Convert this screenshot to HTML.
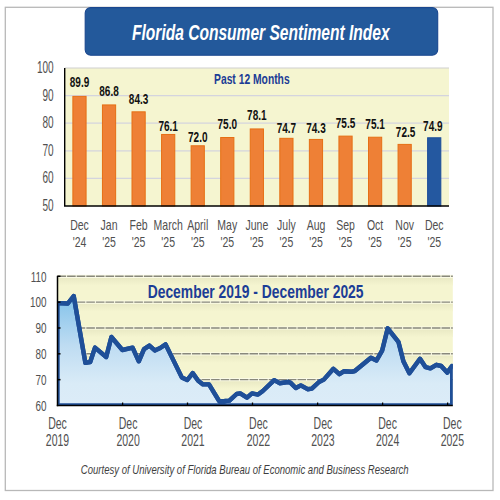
<!DOCTYPE html><html><head><meta charset="utf-8"><style>html,body{margin:0;padding:0;background:#fff;width:500px;height:500px;overflow:hidden}svg{display:block}text{font-family:"Liberation Sans",sans-serif}</style></head><body>
<svg width="500" height="500" viewBox="0 0 500 500">
<defs><linearGradient id="ag" x1="0" y1="296" x2="0" y2="405.5" gradientUnits="userSpaceOnUse"><stop offset="0" stop-color="#82c2ea"/><stop offset="0.45" stop-color="#bedcf2"/><stop offset="0.8" stop-color="#d9ebf7"/><stop offset="1" stop-color="#dcecf8"/></linearGradient><linearGradient id="band" x1="0" y1="0" x2="0" y2="1"><stop offset="0" stop-color="#e9e9c4"/><stop offset="1" stop-color="#f5f5d0"/></linearGradient><clipPath id="lc"><rect x="57.5" y="270" width="395.3" height="135.5"/></clipPath></defs>
<rect x="5.3" y="7.3" width="487.7" height="483.2" fill="#fff" stroke="#b8b8b8" stroke-width="1.3"/>
<rect x="85.2" y="7.6" width="352.5" height="47.6" rx="5.5" ry="5.5" fill="#23599b" stroke="#1a478f" stroke-width="1.1"/>
<text transform="translate(131.99 39.88) scale(0.7026 1)" font-size="22.162" font-weight="bold" font-style="italic" fill="#fff" text-anchor="start">Florida Consumer Sentiment Index</text>
<rect x="64.7" y="68" width="384.3" height="138.0" fill="#f5f5d0"/>
<line x1="64.7" y1="68" x2="449" y2="68" stroke="#cfcfcf" stroke-width="1.2"/>
<line x1="64.7" y1="178.40" x2="449" y2="178.40" stroke="#d4d4de" stroke-width="1.3"/>
<line x1="64.7" y1="150.80" x2="449" y2="150.80" stroke="#d4d4de" stroke-width="1.3"/>
<line x1="64.7" y1="123.20" x2="449" y2="123.20" stroke="#d4d4de" stroke-width="1.3"/>
<line x1="64.7" y1="95.60" x2="449" y2="95.60" stroke="#d4d4de" stroke-width="1.3"/>
<rect x="72.88" y="96.38" width="13.2" height="109.62" fill="#ee8036" stroke="#e66f14" stroke-width="1"/>
<text transform="translate(79.48 87.30) scale(0.6870 1)" font-size="14.6" font-weight="bold" font-style="normal" fill="#111" text-anchor="middle">89.9</text>
<text transform="translate(79.48 229.90) scale(0.7100 1)" font-size="14.8" font-weight="normal" font-style="normal" fill="#505050" text-anchor="middle">Dec</text>
<text transform="translate(79.48 247.20) scale(0.7100 1)" font-size="14.8" font-weight="normal" font-style="normal" fill="#505050" text-anchor="middle">&#39;24</text>
<rect x="102.44" y="104.93" width="13.2" height="101.07" fill="#ee8036" stroke="#e66f14" stroke-width="1"/>
<text transform="translate(109.04 95.70) scale(0.6870 1)" font-size="14.6" font-weight="bold" font-style="normal" fill="#111" text-anchor="middle">86.8</text>
<text transform="translate(109.04 229.90) scale(0.7100 1)" font-size="14.8" font-weight="normal" font-style="normal" fill="#505050" text-anchor="middle">Jan</text>
<text transform="translate(109.04 247.20) scale(0.7100 1)" font-size="14.8" font-weight="normal" font-style="normal" fill="#505050" text-anchor="middle">&#39;25</text>
<rect x="132.00" y="111.83" width="13.2" height="94.17" fill="#ee8036" stroke="#e66f14" stroke-width="1"/>
<text transform="translate(138.60 103.90) scale(0.6870 1)" font-size="14.6" font-weight="bold" font-style="normal" fill="#111" text-anchor="middle">84.3</text>
<text transform="translate(138.60 229.90) scale(0.7100 1)" font-size="14.8" font-weight="normal" font-style="normal" fill="#505050" text-anchor="middle">Feb</text>
<text transform="translate(138.60 247.20) scale(0.7100 1)" font-size="14.8" font-weight="normal" font-style="normal" fill="#505050" text-anchor="middle">&#39;25</text>
<rect x="161.57" y="134.46" width="13.2" height="71.54" fill="#ee8036" stroke="#e66f14" stroke-width="1"/>
<text transform="translate(168.17 131.30) scale(0.6870 1)" font-size="14.6" font-weight="bold" font-style="normal" fill="#111" text-anchor="middle">76.1</text>
<text transform="translate(168.17 229.90) scale(0.7100 1)" font-size="14.8" font-weight="normal" font-style="normal" fill="#505050" text-anchor="middle">March</text>
<text transform="translate(168.17 247.20) scale(0.7100 1)" font-size="14.8" font-weight="normal" font-style="normal" fill="#505050" text-anchor="middle">&#39;25</text>
<rect x="191.13" y="145.78" width="13.2" height="60.22" fill="#ee8036" stroke="#e66f14" stroke-width="1"/>
<text transform="translate(197.73 142.10) scale(0.6870 1)" font-size="14.6" font-weight="bold" font-style="normal" fill="#111" text-anchor="middle">72.0</text>
<text transform="translate(197.73 229.90) scale(0.7100 1)" font-size="14.8" font-weight="normal" font-style="normal" fill="#505050" text-anchor="middle">April</text>
<text transform="translate(197.73 247.20) scale(0.7100 1)" font-size="14.8" font-weight="normal" font-style="normal" fill="#505050" text-anchor="middle">&#39;25</text>
<rect x="220.69" y="137.50" width="13.2" height="68.50" fill="#ee8036" stroke="#e66f14" stroke-width="1"/>
<text transform="translate(227.29 129.30) scale(0.6870 1)" font-size="14.6" font-weight="bold" font-style="normal" fill="#111" text-anchor="middle">75.0</text>
<text transform="translate(227.29 229.90) scale(0.7100 1)" font-size="14.8" font-weight="normal" font-style="normal" fill="#505050" text-anchor="middle">May</text>
<text transform="translate(227.29 247.20) scale(0.7100 1)" font-size="14.8" font-weight="normal" font-style="normal" fill="#505050" text-anchor="middle">&#39;25</text>
<rect x="250.25" y="128.94" width="13.2" height="77.06" fill="#ee8036" stroke="#e66f14" stroke-width="1"/>
<text transform="translate(256.85 120.30) scale(0.6870 1)" font-size="14.6" font-weight="bold" font-style="normal" fill="#111" text-anchor="middle">78.1</text>
<text transform="translate(256.85 229.90) scale(0.7100 1)" font-size="14.8" font-weight="normal" font-style="normal" fill="#505050" text-anchor="middle">June</text>
<text transform="translate(256.85 247.20) scale(0.7100 1)" font-size="14.8" font-weight="normal" font-style="normal" fill="#505050" text-anchor="middle">&#39;25</text>
<rect x="279.81" y="138.33" width="13.2" height="67.67" fill="#ee8036" stroke="#e66f14" stroke-width="1"/>
<text transform="translate(286.41 132.50) scale(0.6870 1)" font-size="14.6" font-weight="bold" font-style="normal" fill="#111" text-anchor="middle">74.7</text>
<text transform="translate(286.41 229.90) scale(0.7100 1)" font-size="14.8" font-weight="normal" font-style="normal" fill="#505050" text-anchor="middle">July</text>
<text transform="translate(286.41 247.20) scale(0.7100 1)" font-size="14.8" font-weight="normal" font-style="normal" fill="#505050" text-anchor="middle">&#39;25</text>
<rect x="309.37" y="139.43" width="13.2" height="66.57" fill="#ee8036" stroke="#e66f14" stroke-width="1"/>
<text transform="translate(315.97 132.50) scale(0.6870 1)" font-size="14.6" font-weight="bold" font-style="normal" fill="#111" text-anchor="middle">74.3</text>
<text transform="translate(315.97 229.90) scale(0.7100 1)" font-size="14.8" font-weight="normal" font-style="normal" fill="#505050" text-anchor="middle">Aug</text>
<text transform="translate(315.97 247.20) scale(0.7100 1)" font-size="14.8" font-weight="normal" font-style="normal" fill="#505050" text-anchor="middle">&#39;25</text>
<rect x="338.93" y="136.12" width="13.2" height="69.88" fill="#ee8036" stroke="#e66f14" stroke-width="1"/>
<text transform="translate(345.53 127.90) scale(0.6870 1)" font-size="14.6" font-weight="bold" font-style="normal" fill="#111" text-anchor="middle">75.5</text>
<text transform="translate(345.53 229.90) scale(0.7100 1)" font-size="14.8" font-weight="normal" font-style="normal" fill="#505050" text-anchor="middle">Sep</text>
<text transform="translate(345.53 247.20) scale(0.7100 1)" font-size="14.8" font-weight="normal" font-style="normal" fill="#505050" text-anchor="middle">&#39;25</text>
<rect x="368.50" y="137.22" width="13.2" height="68.78" fill="#ee8036" stroke="#e66f14" stroke-width="1"/>
<text transform="translate(375.10 128.90) scale(0.6870 1)" font-size="14.6" font-weight="bold" font-style="normal" fill="#111" text-anchor="middle">75.1</text>
<text transform="translate(375.10 229.90) scale(0.7100 1)" font-size="14.8" font-weight="normal" font-style="normal" fill="#505050" text-anchor="middle">Oct</text>
<text transform="translate(375.10 247.20) scale(0.7100 1)" font-size="14.8" font-weight="normal" font-style="normal" fill="#505050" text-anchor="middle">&#39;25</text>
<rect x="398.06" y="144.40" width="13.2" height="61.60" fill="#ee8036" stroke="#e66f14" stroke-width="1"/>
<text transform="translate(405.56 137.30) scale(0.6870 1)" font-size="14.6" font-weight="bold" font-style="normal" fill="#111" text-anchor="middle">72.5</text>
<text transform="translate(404.66 229.90) scale(0.7100 1)" font-size="14.8" font-weight="normal" font-style="normal" fill="#505050" text-anchor="middle">Nov</text>
<text transform="translate(404.66 247.20) scale(0.7100 1)" font-size="14.8" font-weight="normal" font-style="normal" fill="#505050" text-anchor="middle">&#39;25</text>
<rect x="427.62" y="137.78" width="13.2" height="68.22" fill="#2458a0" stroke="#1a4c99" stroke-width="1"/>
<text transform="translate(432.82 130.90) scale(0.6870 1)" font-size="14.6" font-weight="bold" font-style="normal" fill="#111" text-anchor="middle">74.9</text>
<text transform="translate(434.22 229.90) scale(0.7100 1)" font-size="14.8" font-weight="normal" font-style="normal" fill="#505050" text-anchor="middle">Dec</text>
<text transform="translate(434.22 247.20) scale(0.7100 1)" font-size="14.8" font-weight="normal" font-style="normal" fill="#505050" text-anchor="middle">&#39;25</text>
<line x1="64.7" y1="68" x2="64.7" y2="206.0" stroke="#000" stroke-width="1.4"/>
<line x1="64.0" y1="206.0" x2="449" y2="206.0" stroke="#000" stroke-width="1.4"/>
<text transform="translate(53.60 211.00) scale(0.6150 1)" font-size="16.3" font-weight="normal" font-style="normal" fill="#505050" text-anchor="end">50</text>
<text transform="translate(53.60 183.40) scale(0.6150 1)" font-size="16.3" font-weight="normal" font-style="normal" fill="#505050" text-anchor="end">60</text>
<text transform="translate(53.60 155.80) scale(0.6150 1)" font-size="16.3" font-weight="normal" font-style="normal" fill="#505050" text-anchor="end">70</text>
<text transform="translate(53.60 128.20) scale(0.6150 1)" font-size="16.3" font-weight="normal" font-style="normal" fill="#505050" text-anchor="end">80</text>
<text transform="translate(53.60 100.60) scale(0.6150 1)" font-size="16.3" font-weight="normal" font-style="normal" fill="#505050" text-anchor="end">90</text>
<text transform="translate(53.60 73.00) scale(0.6150 1)" font-size="16.3" font-weight="normal" font-style="normal" fill="#505050" text-anchor="end">100</text>
<text transform="translate(214.03 84.21) scale(0.7204 1)" font-size="14.324" font-weight="bold" font-style="normal" fill="#1c3d96" text-anchor="start">Past 12 Months</text>
<rect x="57.5" y="276.3" width="395.3" height="129.2" fill="#f5f5d0"/>
<rect x="57.5" y="380.86" width="395.3" height="8" fill="url(#band)"/>
<line x1="57.5" y1="379.66" x2="452.8" y2="379.66" stroke="#fbfbe6" stroke-width="3.2"/>
<line x1="57.5" y1="379.66" x2="452.8" y2="379.66" stroke="#88887c" stroke-width="1.4" stroke-dasharray="8.6 1.0"/>
<rect x="57.5" y="355.02" width="395.3" height="8" fill="url(#band)"/>
<line x1="57.5" y1="353.82" x2="452.8" y2="353.82" stroke="#fbfbe6" stroke-width="3.2"/>
<line x1="57.5" y1="353.82" x2="452.8" y2="353.82" stroke="#88887c" stroke-width="1.4" stroke-dasharray="8.6 1.0"/>
<rect x="57.5" y="329.18" width="395.3" height="8" fill="url(#band)"/>
<line x1="57.5" y1="327.98" x2="452.8" y2="327.98" stroke="#fbfbe6" stroke-width="3.2"/>
<line x1="57.5" y1="327.98" x2="452.8" y2="327.98" stroke="#88887c" stroke-width="1.4" stroke-dasharray="8.6 1.0"/>
<rect x="57.5" y="303.34" width="395.3" height="8" fill="url(#band)"/>
<line x1="57.5" y1="302.14" x2="452.8" y2="302.14" stroke="#fbfbe6" stroke-width="3.2"/>
<line x1="57.5" y1="302.14" x2="452.8" y2="302.14" stroke="#88887c" stroke-width="1.4" stroke-dasharray="8.6 1.0"/>
<rect x="57.5" y="277.50" width="395.3" height="8" fill="url(#band)"/>
<line x1="57.5" y1="276.30" x2="452.8" y2="276.30" stroke="#fbfbe6" stroke-width="3.2"/>
<line x1="57.5" y1="276.30" x2="452.8" y2="276.30" stroke="#88887c" stroke-width="1.4" stroke-dasharray="8.6 1.0"/>
<g clip-path="url(#lc)"><path d="M57.5,405.5 L57.5,303.1 L67.8,303.5 L73.7,296 L85.4,362.8 L90.2,362 L95,347.6 L106.2,357 L111.4,337 L122.4,350 L132.6,347.6 L138.8,361.3 L144,349.2 L149.4,345.6 L154.8,350.4 L160.2,348 L165.6,344.4 L181.8,377.4 L187.3,380 L192.7,373.1 L198.2,380.8 L203,384.4 L209,384.4 L219.2,401.2 L224.6,401 L229.4,400.6 L236.6,394 L240.2,393.4 L247,397.6 L252,393.4 L258,394.6 L262.8,391 L274.2,380.2 L279.6,383.2 L288,382 L290.4,382.6 L295.8,388 L300.8,385.4 L307.6,389.2 L311.8,388.6 L319,382 L323.8,379.6 L333.4,368.8 L339.4,374.2 L344.2,371.2 L351.4,371.8 L354.8,371 L370.9,357.7 L376.5,360.5 L382.1,350.7 L387.7,328.3 L398.4,341.8 L403.4,361.2 L409.4,373.2 L420,358.8 L425.6,367.2 L430.4,368.4 L436.4,364.8 L441.2,366 L447.2,372.6 L452,366 L452.2,366 L452.2,405.5 Z" fill="url(#ag)" stroke="#1f4f98" stroke-width="4.4" stroke-linejoin="round"/></g>
<polyline clip-path="url(#lc)" points="57.5,303.1 67.8,303.5 73.7,296 85.4,362.8 90.2,362 95,347.6 106.2,357 111.4,337 122.4,350 132.6,347.6 138.8,361.3 144,349.2 149.4,345.6 154.8,350.4 160.2,348 165.6,344.4 181.8,377.4 187.3,380 192.7,373.1 198.2,380.8 203,384.4 209,384.4 219.2,401.2 224.6,401 229.4,400.6 236.6,394 240.2,393.4 247,397.6 252,393.4 258,394.6 262.8,391 274.2,380.2 279.6,383.2 288,382 290.4,382.6 295.8,388 300.8,385.4 307.6,389.2 311.8,388.6 319,382 323.8,379.6 333.4,368.8 339.4,374.2 344.2,371.2 351.4,371.8 354.8,371 370.9,357.7 376.5,360.5 382.1,350.7 387.7,328.3 398.4,341.8 403.4,361.2 409.4,373.2 420,358.8 425.6,367.2 430.4,368.4 436.4,364.8 441.2,366 447.2,372.6 452,366" fill="none" stroke="#1f4f98" stroke-width="4.4" stroke-linejoin="round" stroke-linecap="round"/>
<line x1="57.5" y1="275.8" x2="57.5" y2="406.2" stroke="#000" stroke-width="1.5"/>
<line x1="56.8" y1="405.5" x2="452.8" y2="405.5" stroke="#000" stroke-width="1.5"/>
<line x1="57.5" y1="379.66" x2="60.5" y2="379.66" stroke="#000" stroke-width="1.5"/>
<line x1="57.5" y1="353.82" x2="60.5" y2="353.82" stroke="#000" stroke-width="1.5"/>
<line x1="57.5" y1="327.98" x2="60.5" y2="327.98" stroke="#000" stroke-width="1.5"/>
<line x1="57.5" y1="302.14" x2="60.5" y2="302.14" stroke="#000" stroke-width="1.5"/>
<line x1="57.5" y1="276.30" x2="60.5" y2="276.30" stroke="#000" stroke-width="1.5"/>
<line x1="122.6" y1="405.5" x2="122.6" y2="402.5" stroke="#000" stroke-width="1.3"/>
<line x1="187.5" y1="405.5" x2="187.5" y2="402.5" stroke="#000" stroke-width="1.3"/>
<line x1="252.5" y1="405.5" x2="252.5" y2="402.5" stroke="#000" stroke-width="1.3"/>
<line x1="317.6" y1="405.5" x2="317.6" y2="402.5" stroke="#000" stroke-width="1.3"/>
<line x1="382.6" y1="405.5" x2="382.6" y2="402.5" stroke="#000" stroke-width="1.3"/>
<line x1="447.6" y1="405.5" x2="447.6" y2="402.5" stroke="#000" stroke-width="1.3"/>
<text transform="translate(46.40 410.70) scale(0.6600 1)" font-size="15.0" font-weight="normal" font-style="normal" fill="#505050" text-anchor="end">60</text>
<text transform="translate(46.40 384.86) scale(0.6600 1)" font-size="15.0" font-weight="normal" font-style="normal" fill="#505050" text-anchor="end">70</text>
<text transform="translate(46.40 359.02) scale(0.6600 1)" font-size="15.0" font-weight="normal" font-style="normal" fill="#505050" text-anchor="end">80</text>
<text transform="translate(46.40 333.18) scale(0.6600 1)" font-size="15.0" font-weight="normal" font-style="normal" fill="#505050" text-anchor="end">90</text>
<text transform="translate(46.40 307.34) scale(0.6600 1)" font-size="15.0" font-weight="normal" font-style="normal" fill="#505050" text-anchor="end">100</text>
<text transform="translate(46.40 281.50) scale(0.6600 1)" font-size="15.0" font-weight="normal" font-style="normal" fill="#505050" text-anchor="end">110</text>
<text transform="translate(57.50 429.00) scale(0.6570 1)" font-size="16.0" font-weight="normal" font-style="normal" fill="#505050" text-anchor="middle">Dec</text>
<text transform="translate(57.50 445.90) scale(0.6570 1)" font-size="16.0" font-weight="normal" font-style="normal" fill="#505050" text-anchor="middle">2019</text>
<text transform="translate(128.10 429.00) scale(0.6570 1)" font-size="16.0" font-weight="normal" font-style="normal" fill="#505050" text-anchor="middle">Dec</text>
<text transform="translate(128.10 445.90) scale(0.6570 1)" font-size="16.0" font-weight="normal" font-style="normal" fill="#505050" text-anchor="middle">2020</text>
<text transform="translate(193.00 429.00) scale(0.6570 1)" font-size="16.0" font-weight="normal" font-style="normal" fill="#505050" text-anchor="middle">Dec</text>
<text transform="translate(193.00 445.90) scale(0.6570 1)" font-size="16.0" font-weight="normal" font-style="normal" fill="#505050" text-anchor="middle">2021</text>
<text transform="translate(258.40 429.00) scale(0.6570 1)" font-size="16.0" font-weight="normal" font-style="normal" fill="#505050" text-anchor="middle">Dec</text>
<text transform="translate(258.40 445.90) scale(0.6570 1)" font-size="16.0" font-weight="normal" font-style="normal" fill="#505050" text-anchor="middle">2022</text>
<text transform="translate(322.90 429.00) scale(0.6570 1)" font-size="16.0" font-weight="normal" font-style="normal" fill="#505050" text-anchor="middle">Dec</text>
<text transform="translate(322.90 445.90) scale(0.6570 1)" font-size="16.0" font-weight="normal" font-style="normal" fill="#505050" text-anchor="middle">2023</text>
<text transform="translate(387.60 429.00) scale(0.6570 1)" font-size="16.0" font-weight="normal" font-style="normal" fill="#505050" text-anchor="middle">Dec</text>
<text transform="translate(387.60 445.90) scale(0.6570 1)" font-size="16.0" font-weight="normal" font-style="normal" fill="#505050" text-anchor="middle">2024</text>
<text transform="translate(452.30 429.00) scale(0.6570 1)" font-size="16.0" font-weight="normal" font-style="normal" fill="#505050" text-anchor="middle">Dec</text>
<text transform="translate(452.30 445.90) scale(0.6570 1)" font-size="16.0" font-weight="normal" font-style="normal" fill="#505050" text-anchor="middle">2025</text>
<text transform="translate(147.68 297.66) scale(0.7389 1)" font-size="18.784" font-weight="bold" font-style="normal" fill="#1c3d96" text-anchor="start">December 2019 - December 2025</text>
<text transform="translate(80.83 473.99) scale(0.7682 1)" font-size="12.447" font-weight="normal" font-style="italic" fill="#3e3e3e" text-anchor="start">Courtesy of University of Florida Bureau of Economic and Business Research</text>
</svg></body></html>
